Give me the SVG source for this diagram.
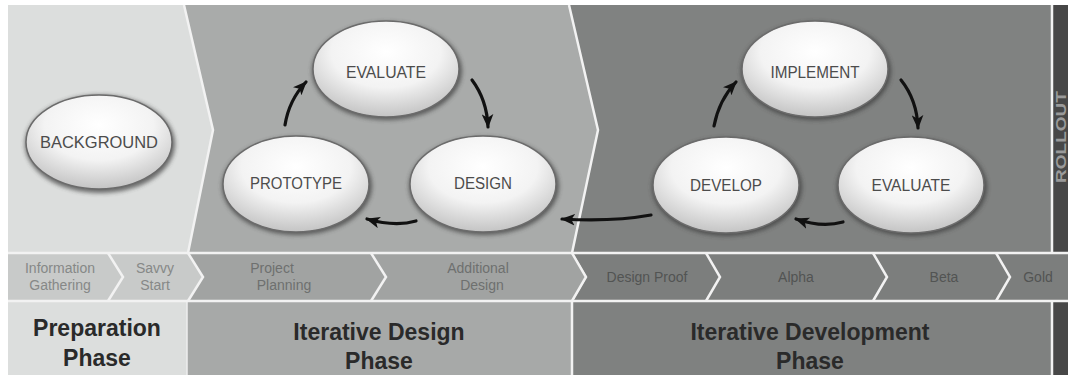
<svg xmlns="http://www.w3.org/2000/svg" width="1068" height="375" viewBox="0 0 1068 375">
<defs>
<radialGradient id="eg" cx="50%" cy="32%" r="68%">
<stop offset="0" stop-color="#ffffff"/>
<stop offset="0.55" stop-color="#f3f3f3"/>
<stop offset="1" stop-color="#c4c4c4"/>
</radialGradient>
<filter id="sh" x="-20%" y="-20%" width="140%" height="140%">
<feGaussianBlur stdDeviation="2"/>
</filter>
<marker id="ah" viewBox="0 0 12 10" refX="11" refY="5" markerWidth="14" markerHeight="12" markerUnits="userSpaceOnUse" orient="auto">
<path d="M0,0 L12,5 L0,10 L3,5 z" fill="#111"/>
</marker>
<style>
.node ellipse.s{fill:#3a3a3a;opacity:0.7;filter:url(#sh)}
.node ellipse.b{fill:url(#eg);stroke:#6b6b6b;stroke-width:1.5}
.node text{font-family:"Liberation Sans",Arial,sans-serif;font-size:16px;fill:#4c4c4c;text-anchor:middle}
.conn path{fill:none;stroke:#111;stroke-width:3.2;stroke-linecap:round;marker-end:url(#ah)}
.wl{fill:none;stroke:#f2f2f2;stroke-width:2.5}
.stg{font-family:"Liberation Sans",Arial,sans-serif;font-size:14px;text-anchor:middle}
.ph{font-family:"Liberation Sans",Arial,sans-serif;font-size:23px;font-weight:bold;fill:#2a2a2a;text-anchor:middle}
</style>
</defs>
<rect width="1068" height="375" fill="#ffffff"/>
<g id="panels">
<polygon points="8,5 184,5 213,130 188,253 8,253" fill="#dcdedd"/>
<polygon points="184,5 569,5 598,130 572,253 188,253 213,130" fill="#a9abaa"/>
<polygon points="569,5 1052,5 1052,253 572,253 598,130" fill="#808281"/>
<rect x="1053" y="5" width="15" height="248" fill="#474747"/>
<rect x="1053" y="301" width="15" height="74" fill="#474747"/>
<rect x="8" y="301" width="179" height="74" fill="#dcdedd"/>
<rect x="187" y="301" width="385" height="74" fill="#a7a9a8"/>
<rect x="572" y="301" width="480" height="74" fill="#7f8180"/>
<polyline class="wl" points="184,5 213,130 188,253"/>
<polyline class="wl" points="569,5 598,130 572,253"/>
<line class="wl" x1="1052" y1="5" x2="1052" y2="253"/>
<line class="wl" x1="1052" y1="301" x2="1052" y2="375"/>
<line class="wl" x1="572" y1="301" x2="572" y2="375"/>
<line x1="187" y1="301" x2="187" y2="375" stroke="#eeeeee" stroke-width="1.5"/>
<text transform="translate(1066,137) rotate(-90)" font-family="'Liberation Sans',Arial,sans-serif" font-size="14" font-weight="bold" fill="#9a9a9a" text-anchor="middle" textLength="92" lengthAdjust="spacingAndGlyphs">ROLLOUT</text>
</g>
<g id="band">
<polygon points="8,253 188,253 202,277 188,301 8,301" fill="#c8cac9"/>
<polygon points="188,253 573,253 587,277 573,301 188,301 202,277" fill="#a1a3a2"/>
<polygon points="573,253 1068,253 1068,301 573,301 587,277" fill="#7c7e7d"/>
<line class="wl" x1="8" y1="253" x2="1068" y2="253"/>
<line class="wl" x1="8" y1="301" x2="1068" y2="301"/>
<polyline class="wl" points="108,253 123,277 108,301"/>
<polyline class="wl" points="188,253 203,277 188,301"/>
<polyline class="wl" points="371,253 386,277 371,301"/>
<polyline class="wl" points="572,253 586,277 572,301"/>
<polyline class="wl" points="706,253 720,277 706,301"/>
<polyline class="wl" points="873,253 887,277 873,301"/>
<polyline class="wl" points="996,253 1010,277 996,301"/>
<text class="stg" fill="#868887" x="60" y="273">Information</text>
<text class="stg" fill="#868887" x="60" y="290">Gathering</text>
<text class="stg" fill="#868887" x="155" y="273">Savvy</text>
<text class="stg" fill="#868887" x="155" y="290">Start</text>
<text class="stg" fill="#6e706f" x="272" y="273">Project</text>
<text class="stg" fill="#6e706f" x="284" y="290">Planning</text>
<text class="stg" fill="#6e706f" x="478" y="273">Additional</text>
<text class="stg" fill="#6e706f" x="482" y="290">Design</text>
<text class="stg" fill="#525453" x="647" y="282">Design Proof</text>
<text class="stg" fill="#525453" x="796" y="282">Alpha</text>
<text class="stg" fill="#525453" x="944" y="282">Beta</text>
<text class="stg" fill="#525453" x="1038" y="282">Gold</text>
</g>
<g id="phases">
<text class="ph" x="97" y="336">Preparation</text>
<text class="ph" x="97" y="366">Phase</text>
<text class="ph" x="379" y="340">Iterative Design</text>
<text class="ph" x="379" y="369">Phase</text>
<text class="ph" x="810" y="340">Iterative Development</text>
<text class="ph" x="810" y="369">Phase</text>
</g>
<g id="n-background" class="node">
<ellipse class="s" cx="100" cy="144" rx="75" ry="49"/>
<ellipse class="b" cx="99" cy="142" rx="73" ry="47"/>
<text x="99" y="148" textLength="118" lengthAdjust="spacingAndGlyphs">BACKGROUND</text>
</g>
<g id="n-prototype" class="node">
<ellipse class="s" cx="297" cy="186" rx="75" ry="49"/>
<ellipse class="b" cx="296" cy="184" rx="73" ry="48"/>
<text x="296" y="189" textLength="92" lengthAdjust="spacingAndGlyphs">PROTOTYPE</text>
</g>
<g id="n-evaluate1" class="node">
<ellipse class="s" cx="387" cy="71" rx="75" ry="49"/>
<ellipse class="b" cx="386" cy="69" rx="73" ry="48"/>
<text x="386" y="78" textLength="80" lengthAdjust="spacingAndGlyphs">EVALUATE</text>
</g>
<g id="n-design" class="node">
<ellipse class="s" cx="484" cy="186" rx="75" ry="49"/>
<ellipse class="b" cx="483" cy="184" rx="73" ry="48"/>
<text x="483" y="189" textLength="58" lengthAdjust="spacingAndGlyphs">DESIGN</text>
</g>
<g id="n-implement" class="node">
<ellipse class="s" cx="816" cy="71" rx="75" ry="49"/>
<ellipse class="b" cx="815" cy="69" rx="73" ry="48"/>
<text x="815" y="78" textLength="89" lengthAdjust="spacingAndGlyphs">IMPLEMENT</text>
</g>
<g id="n-develop" class="node">
<ellipse class="s" cx="727" cy="187" rx="75" ry="49"/>
<ellipse class="b" cx="726" cy="185" rx="73" ry="48"/>
<text x="726" y="191" textLength="72" lengthAdjust="spacingAndGlyphs">DEVELOP</text>
</g>
<g id="n-evaluate2" class="node">
<ellipse class="s" cx="912" cy="187" rx="75" ry="49"/>
<ellipse class="b" cx="911" cy="185" rx="73" ry="48"/>
<text x="911" y="191" textLength="79" lengthAdjust="spacingAndGlyphs">EVALUATE</text>
</g>
<g id="connectors" class="conn">
<path d="M285,125 Q289,100 306,82"/>
<path d="M472,80 Q487,100 488,127"/>
<path d="M416,221 Q395,227 367,219"/>
<path d="M651,215 Q612,222 562,219"/>
<path d="M714,126 Q719,100 736,82"/>
<path d="M901,80 Q917,100 918,128"/>
<path d="M843,222 Q822,228 796,219"/>
</g>
</svg>
